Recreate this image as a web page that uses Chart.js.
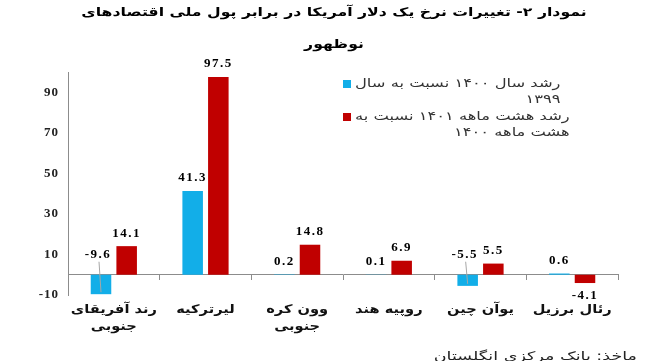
<!DOCTYPE html>
<html><head><meta charset="utf-8">
<script src="https://cdn.jsdelivr.net/npm/chart.js@4"></script>
<style>html,body{margin:0;padding:0;background:#fff}#wrap{width:668px;height:361px}</style>
</head><body><div id="wrap"><canvas id="c" width="668" height="361"></canvas></div>
<script>
const categories = [['رند آفریقای', 'جنوبی'], 'لیرترکیه', ['وون کره', 'جنوبی'], 'روپیه هند', 'یوآن چین', 'رئال برزیل'];
const series1Name = ['رشد سال ۱۴۰۰ نسبت به سال', '۱۳۹۹'];
const series2Name = ['رشد هشت ماهه ۱۴۰۱ نسبت به', 'هشت ماهه ۱۴۰۰'];
const series1Values = [-9.6, 41.3, 0.2, 0.1, -5.5, 0.6];
const series2Values = [14.1, 97.5, 14.8, 6.9, 5.5, -4.1];
const yTickValues = [-10, 10, 30, 50, 70, 90];
const titleLines = ['نمودار ۲- تغییرات نرخ یک دلار آمریکا در برابر پول ملی اقتصادهای', 'نوظهور'];
const sourceText = 'ماخذ: بانک مرکزی انگلستان';

const FONT_FA = '"DejaVu Sans", sans-serif';
const FONT_NUM = '"Liberation Serif", "Times New Roman", serif';
const BLUE = '#12aee8';
const RED = '#c00000';
const AXIS = '#8c8c8c';

function drawWide(ctx, text, x, y, align, sx) {
  ctx.save();
  ctx.translate(x, y);
  ctx.scale(sx, 1);
  ctx.textAlign = align;
  ctx.fillText(text, 0, 0);
  ctx.restore();
}

const decor = {
  id: 'decor',
  beforeUpdate(chart) { chart.ctx.letterSpacing = '1px'; },
  beforeDraw(chart) { chart.ctx.letterSpacing = '1px'; },
  afterDatasetsDraw(chart) {
    const ctx = chart.ctx;
    const zeroY = chart.scales.y.getPixelForValue(0);
    ctx.save();
    ctx.letterSpacing = '1.5px';
    ctx.font = 'bold 13px ' + FONT_NUM;
    ctx.fillStyle = '#000';
    ctx.textAlign = 'center';
    ctx.textBaseline = 'middle';
    ctx.direction = 'ltr';
    chart.data.datasets.forEach((ds, di) => {
      const meta = chart.getDatasetMeta(di);
      meta.data.forEach((bar, i) => {
        const v = ds.data[i];
        const txt = v.toFixed(1);
        if (v >= 0) {
          ctx.fillText(txt, bar.x, bar.y - 13);
        } else if (di === 1) {
          ctx.fillText(txt, bar.x, bar.y + 13);
        } else {
          const ly = zeroY - 20;
          const lx = bar.x - 3;
          ctx.fillText(txt, lx, ly);
          ctx.save();
          ctx.strokeStyle = '#a6a6a6';
          ctx.lineWidth = 1;
          ctx.beginPath();
          ctx.moveTo(lx + 1, ly + 7);
          ctx.lineTo(bar.x, bar.y - 2);
          ctx.stroke();
          ctx.restore();
        }
      });
    });
    ctx.restore();
  },
  afterDraw(chart) {
    const ctx = chart.ctx, ca = chart.chartArea;
    ctx.save();
    ctx.direction = 'rtl';
    ctx.textBaseline = 'middle';
    ctx.letterSpacing = '0px';
    // title
    ctx.fillStyle = '#000';
    ctx.font = 'bold 12px ' + FONT_FA;
    titleLines.forEach((t, i) => drawWide(ctx, t, chart.width / 2, 13 + i * 32, 'center', 1.31));
    // category labels
    const xs = chart.scales.x;
    ctx.font = 'bold 12px ' + FONT_FA;
    ctx.fillStyle = '#111';
    categories.forEach((c, i) => {
      const lines = Array.isArray(c) ? c : [c];
      const x = xs.getPixelForValue(i);
      lines.forEach((l, j) => drawWide(ctx, l, x, ca.bottom + 15 + j * 17, 'center', 1.22));
    });
    // legend
    ctx.font = '12px ' + FONT_FA;
    const sxL = 1.36;
    const lx = ca.left + 275, ly = ca.top + 12;
    chart.data.datasets.forEach((ds, k) => {
      const lines = ds.legendLines;
      const y0 = ly + k * 33;
      ctx.fillStyle = ds.backgroundColor;
      ctx.fillRect(lx, y0 - 4, 8, 8);
      ctx.fillStyle = '#333';
      const w = Math.max(...lines.map(l => ctx.measureText(l).width)) * sxL;
      const right = lx + 12 + w;
      lines.forEach((l, j) => drawWide(ctx, l, right, y0 + j * 16, 'right', sxL));
    });
    // source
    ctx.font = '12px ' + FONT_FA;
    ctx.fillStyle = '#222';
    drawWide(ctx, sourceText, 637, 357, 'right', 1.46);
    ctx.restore();
  }
};

new Chart(document.getElementById('c'), {
  type: 'bar',
  data: {
    labels: categories,
    datasets: [
      { label: series1Name.join(' '), legendLines: series1Name, data: series1Values, backgroundColor: BLUE,
        categoryPercentage: 0.56, barPercentage: 0.8 },
      { label: series2Name.join(' '), legendLines: series2Name, data: series2Values, backgroundColor: RED,
        categoryPercentage: 0.56, barPercentage: 0.8 }
    ]
  },
  options: {
    responsive: false,
    animation: false,
    layout: { padding: { top: 72, right: 50, left: 0, bottom: 0 } },
    plugins: { legend: { display: false }, tooltip: { enabled: false }, title: { display: false } },
    scales: {
      x: {
        type: 'category',
        offset: true,
        grid: { display: false, drawTicks: false },
        border: { display: false },
        ticks: { display: false },
        afterFit(s) { s.height = 66; }
      },
      x2: {
        type: 'category',
        labels: categories,
        offset: true,
        position: { y: 0 },
        grid: { display: true, offset: true, drawOnChartArea: false, drawTicks: true, tickLength: 5, color: AXIS },
        border: { display: true, color: AXIS, width: 1 },
        ticks: { display: false }
      },
      y: {
        min: -10, max: 100,
        afterBuildTicks(s) { s.ticks = yTickValues.map(v => ({ value: v })); },
        grid: { display: false, drawTicks: false },
        border: { display: true, color: AXIS, width: 1 },
        ticks: { color: '#222', padding: 9, font: { family: FONT_NUM, size: 13, weight: 'bold' } },
        afterFit(s) { s.width = 68; }
      }
    }
  },
  plugins: [decor]
});
</script>
</body></html>
